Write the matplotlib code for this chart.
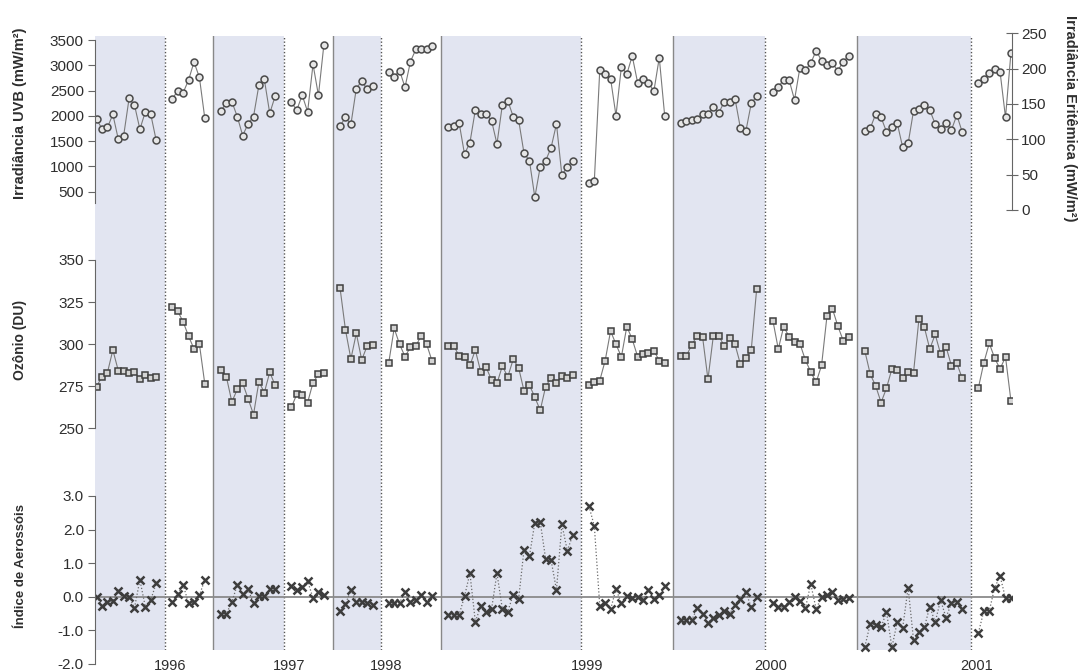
import numpy as np
import matplotlib.pyplot as plt

plt.rcParams['font.family'] = ['Liberation Sans', 'DejaVu Sans']

# year marks at the end of each shaded period
years = ['1996', '1997', '1998', '1999', '2000', '2001']
# segments alternate: shaded (odd periods) / white
shaded = [True, False, True, False, True, False, True, False, True, False, True, False]

# Irradiancia UVB (mW/m2), one list per period; last period is on the right axis
uvb = [
    [1930, 1745, 1770, 2030, 1540, 1610, 2345, 2215, 1735, 2080, 2035, 1520],
    [2335, 2500, 2460, 2710, 3065, 2760, 1950],
    [2100, 2260, 2280, 1985, 1610, 1845, 1985, 2610, 2720, 2050, 2390],
    [2265, 2115, 2410, 2080, 3020, 2405, 3400],
    [1800, 1970, 1830, 2540, 2690, 2525, 2590],
    [2875, 2775, 2895, 2565, 3070, 3315, 3315, 3315, 3380],
    [1785, 1800, 1865, 1245, 1470, 2115, 2035, 2035, 1905, 1445, 2220, 2300,
     1985, 1920, 1260, 1115, 390, 995, 1115, 1370, 1840, 825, 995, 1100],
    [665, 720, 2905, 2825, 2735, 2005, 2970, 2825, 3185, 2655, 2720, 2655, 2485, 3150, 2005],
    [1850, 1900, 1920, 1930, 2030, 2030, 2180, 2060, 2275, 2275, 2340, 1755, 1695, 2245, 2390],
    [2480, 2575, 2710, 2710, 2315, 2955, 2905, 3040, 3290, 3090, 3005, 3040, 2895, 3070, 3185],
    [1700, 1755, 2035, 1970, 1685, 1775, 1850, 1375, 1455, 2100, 2130, 2215, 2115,
     1840, 1735, 1865, 1720, 2015, 1680],
]
eritemica = [180, 186, 194, 200, 195, 131, 222]

ozonio = [
    [274.8, 280.7, 283.1, 296.5, 284.3, 283.9, 282.7, 283.5, 279.1, 281.5, 280.1, 280.5],
    [322.3, 319.5, 313.2, 304.7, 297.1, 299.9, 276.3],
    [284.5, 280.3, 265.6, 273.2, 276.7, 267.6, 258.1, 277.7, 271.2, 283.3, 275.5],
    [262.5, 270.2, 269.6, 265.3, 277.1, 282.1, 282.7],
    [333.2, 308.4, 291.2, 306.4, 290.6, 298.9, 299.5],
    [289.0, 309.4, 299.9, 292.6, 298.1, 298.9, 305.0, 299.9, 290.0],
    [299.1, 299.1, 293.0, 292.6, 287.4, 296.5, 283.5, 286.2, 278.7, 276.7, 287.0, 280.5,
     291.0, 286.0, 272.2, 275.7, 268.4, 260.7, 274.8, 279.9, 276.7, 281.3, 279.7, 281.9],
    [275.7, 277.5, 278.3, 290.2, 307.8, 299.9, 292.4, 310.4, 302.9, 292.6, 294.4, 294.9,
     296.1, 290.2, 288.6],
    [293.0, 293.0, 299.5, 305.0, 304.4, 279.1, 305.0, 305.0, 298.9, 303.5, 299.9, 288.0,
     291.6, 296.5, 332.6],
    [314.0, 297.1, 310.4, 304.4, 301.5, 300.3, 290.6, 283.5, 277.3, 287.4, 316.7, 321.1,
     310.8, 302.1, 304.4],
    [295.9, 282.1, 275.2, 265.3, 273.8, 285.3, 284.7, 280.1, 283.3, 283.1, 315.0, 310.0,
     297.1, 305.8, 294.2, 298.5, 287.2, 288.6, 279.7],
    [274.2, 289.0, 300.5, 291.6, 285.3, 292.4, 266.4],
]

aerossois = [
    [0.0, -0.27, -0.17, -0.13, 0.18, 0.02, 0.0, -0.33, 0.5, -0.3, -0.1, 0.4],
    [-0.16, 0.08, 0.35, -0.2, -0.15, 0.04, 0.51],
    [-0.5, -0.5, -0.15, 0.35, 0.08, 0.22, -0.2, 0.02, 0.02, 0.22, 0.22],
    [0.32, 0.2, 0.3, 0.47, -0.04, 0.15, 0.05],
    [-0.42, -0.22, 0.2, -0.15, -0.15, -0.2, -0.25],
    [-0.2, -0.2, -0.18, 0.15, -0.17, -0.1, 0.05, -0.15, 0.03],
    [-0.54, -0.54, -0.54, 0.01, 0.7, -0.74, -0.29, -0.45, -0.37, 0.7, -0.37, -0.44,
     0.06, -0.07, 1.4, 1.2, 2.21, 2.23, 1.12, 1.09, 0.2, 2.16, 1.37, 1.83],
    [2.7, 2.1, -0.27, -0.18, -0.38, 0.23, -0.2, 0.02, -0.03, 0.0, -0.1, 0.2, -0.07, 0.05, 0.33],
    [-0.69, -0.69, -0.69, -0.35, -0.5, -0.77, -0.62, -0.55, -0.43, -0.5, -0.25, -0.07,
     0.15, -0.32, -0.02],
    [-0.18, -0.32, -0.3, -0.15, 0.0, -0.13, -0.35, 0.38, -0.37, 0.0, 0.05, 0.15, -0.1, -0.07, -0.03],
    [-1.49, -0.8, -0.84, -0.91, -0.45, -1.51, -0.74, -0.92, 0.27, -1.29, -1.06, -0.91,
     -0.3, -0.76, -0.1, -0.62, -0.2, -0.15, -0.37],
    [-1.07, -0.42, -0.42, 0.27, 0.62, -0.05, -0.05],
]

# x = sample number, with a gap (and a separator) between periods
xs = []
seps = []
start = 0
for seg in ozonio:
    n = len(seg)
    xs.append(np.arange(start, start + n))
    seps.append(start + n + 0.6)
    start += n + 2
seps = seps[:-1]
xlim = (-0.3, xs[-1][-1] + 0.2)

W, H = 1079, 672
fig = plt.figure(figsize=(W / 100, H / 100), dpi=100)


def box(top, bottom, left=95, right=1012):
    return [left / W, 1 - bottom / H, (right - left) / W, (bottom - top) / H]


shade = '#e2e5f1'
txt = '#2e2e2e'

# background: shaded periods and separators
bg = fig.add_axes(box(36, 650))
bg.set_xlim(xlim)
bg.set_ylim(0, 1)
bg.axis('off')
prev = xlim[0]
for i, s in enumerate(seps):
    if shaded[i]:
        bg.axvspan(prev, s, color=shade, lw=0)
        bg.axvline(s, color='#555555', lw=1, ls=(0, (1, 1.5)))
    else:
        bg.axvline(s, color='#888888', lw=1)
    prev = s


def style(ax, lo, hi, ticks, fmt):
    ax.set_xlim(xlim)
    ax.patch.set_alpha(0)
    for side in ['top', 'right', 'bottom']:
        ax.spines[side].set_visible(False)
    ax.spines['left'].set_bounds(lo, hi)
    ax.spines['left'].set_color('#666666')
    ax.set_xticks([])
    ax.set_yticks(ticks)
    ax.set_yticklabels([fmt.format(t) for t in ticks])
    ax.tick_params(axis='y', direction='out', length=5, color='#666666',
                   labelsize=11, labelcolor=txt, pad=3)


# UVB panel
ax1 = fig.add_axes(box(30, 235))
ax1.set_ylim(-356, 3698)
style(ax1, 280, 3500, list(range(500, 3501, 500)), '{:d}')
for x, seg in zip(xs[:-1], uvb):
    ax1.plot(x, seg, color='#7a7a7a', lw=0.8, marker='o', ms=5,
             mfc='#e6e6e6', mec='#4a4a4a', mew=1.1)
ax1r = ax1.twinx()
ax1r.set_ylim(-35.4, 254.7)
ax1r.patch.set_alpha(0)
for side in ['top', 'left', 'bottom']:
    ax1r.spines[side].set_visible(False)
ax1r.spines['right'].set_bounds(0, 250)
ax1r.spines['right'].set_color('#666666')
ax1r.set_yticks(range(0, 251, 50))
ax1r.tick_params(axis='y', direction='inout', length=9, color='#666666',
                 labelsize=11, labelcolor=txt, pad=2)
ax1r.plot(xs[-1], eritemica, color='#7a7a7a', lw=0.8, marker='o', ms=5,
          mfc='#e6e6e6', mec='#4a4a4a', mew=1.1)

# ozone panel
ax2 = fig.add_axes(box(235, 455))
ax2.set_ylim(234.1, 364.85)
style(ax2, 250, 350, [250, 275, 300, 325, 350], '{:d}')
for x, seg in zip(xs, ozonio):
    ax2.plot(x, seg, color='#7a7a7a', lw=0.8, marker='s', ms=4.6,
             mfc='#d4d4d4', mec='#404040', mew=1.1)

# aerosol panel
ax3 = fig.add_axes(box(455, 668))
ax3.set_ylim(-2.122, 4.22)
style(ax3, -2, 3, [-2, -1, 0, 1, 2, 3], '{:.1f}')
ax3.axhline(0, color='#8a8a8a', lw=1.3, zorder=1)
for x, seg in zip(xs, aerossois):
    ax3.plot(x, seg, color='#6a6a6a', lw=0.9, ls=':', marker='x', ms=5.5,
             mec='#3d3d3d', mew=1.8)

# year labels under the dotted separators
year_x = [s for i, s in enumerate(seps) if shaded[i]]
for x, yr in zip(year_x, years):
    ax3.text(x + 1, -2.06, yr, ha='center', va='center', fontsize=10.5, color=txt)

# axis titles
fig.text(20 / W, 1 - 113 / H, 'Irradiância UVB (mW/m²)', rotation=90, ha='center',
         va='center', fontsize=10.5, fontweight='bold', color=txt)
fig.text(20 / W, 1 - 340 / H, 'Ozônio (DU)', rotation=90, ha='center',
         va='center', fontsize=10, fontweight='bold', color=txt)
fig.text(21 / W, 1 - 566 / H, 'Índice de Aerossóis', rotation=90, ha='center',
         va='center', fontsize=9.5, fontweight='bold', color=txt)
fig.text(1070 / W, 1 - 118 / H, 'Irradiância Eritêmica (mW/m²)', rotation=270, ha='center',
         va='center', fontsize=10.5, fontweight='bold', color=txt)

fig.savefig('out.png', dpi=100)
